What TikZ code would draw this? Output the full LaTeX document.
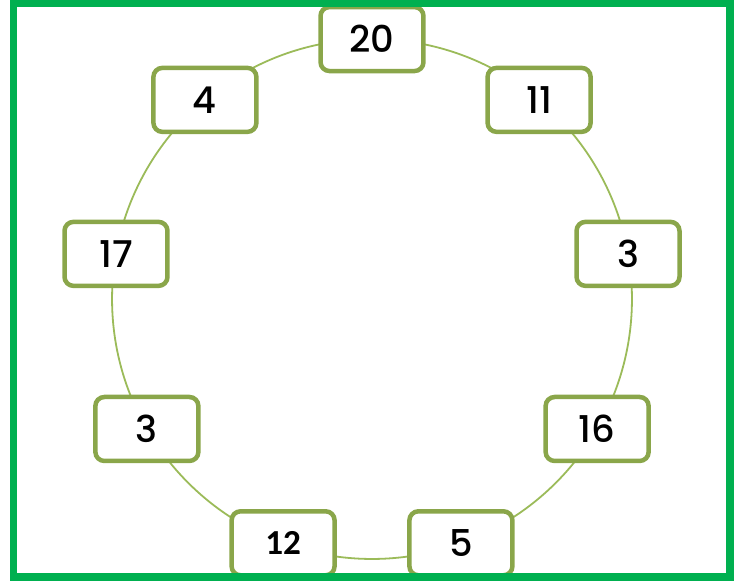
\documentclass[tikz,border=0pt]{standalone}
\usepackage{fontspec}
\setmainfont{Poppins Medium}
\newfontfamily\boxfont{Carlito}
\usetikzlibrary{positioning}
\definecolor{Frame}{HTML}{00B050}
\definecolor{Olive}{HTML}{8AA64A}
\definecolor{Ring}{HTML}{9BBB59}

\begin{document}
\begin{tikzpicture}[x=0.02cm,y=-0.02cm,
  numbox/.style={draw=Olive,line width=0.09cm,rounded corners=0.18cm,fill=white,
    minimum width=2.06cm,minimum height=1.28cm,inner sep=0pt,
    font=\fontsize{21}{24}\selectfont}]
  \useasboundingbox (0,0) rectangle (746,582);
  \coordinate (centre) at (372,299);
  \draw[Ring,line width=0.036cm] (centre) circle[radius=5.2cm];

  % numbers round the ring
  \foreach \ang/\val/\nm in {90/20/a,50/11/b,10/3/c,-30/16/d,-70/5/e,-150/3/g,170/17/h,130/4/i}{
    \node[numbox] (num\nm) at ([shift={(\ang:5.2cm)}]centre) {\val};
  }
  \node[numbox] (numf) at ([shift={(-110:5.2cm)}]centre) {\boxfont\bfseries\fontsize{20}{24}\selectfont 12};

  \draw[Frame,line width=0.15cm] (13.5,3.5) rectangle (730,577);
\end{tikzpicture}
\end{document}
